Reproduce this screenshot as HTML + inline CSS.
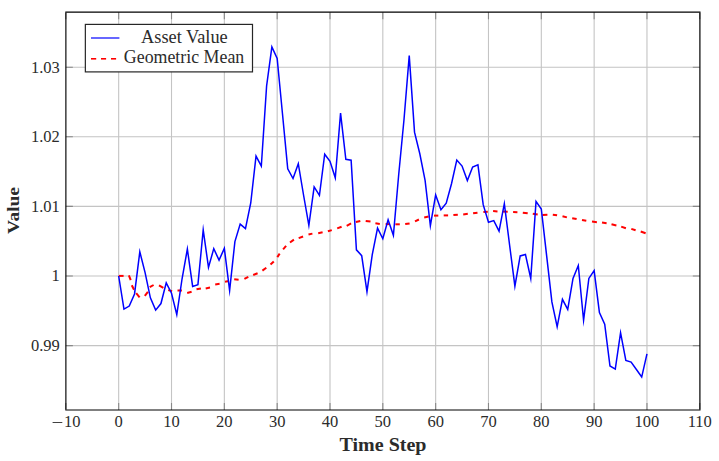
<!DOCTYPE html><html><head><meta charset="utf-8"><style>html,body{margin:0;padding:0;background:#fff;width:719px;height:461px;overflow:hidden}svg{display:block}text{font-family:"Liberation Serif",serif;fill:#2b2b2b}</style></head><body>
<svg width="719" height="461" viewBox="0 0 719 461">
<rect width="719" height="461" fill="#fff"/>
<path d="M118.68 12.15V410.0M171.51 12.15V410.0M224.34 12.15V410.0M277.17 12.15V410.0M330.00 12.15V410.0M382.82 12.15V410.0M435.65 12.15V410.0M488.48 12.15V410.0M541.31 12.15V410.0M594.14 12.15V410.0M646.97 12.15V410.0M65.85 345.60H699.8M65.85 276.00H699.8M65.85 206.40H699.8M65.85 136.80H699.8M65.85 67.20H699.8" stroke="#c4c4c4" stroke-width="1.1" fill="none"/>
<path d="M65.85 410.0v-7.0M65.85 12.15v7.0M118.68 410.0v-7.0M118.68 12.15v7.0M171.51 410.0v-7.0M171.51 12.15v7.0M224.34 410.0v-7.0M224.34 12.15v7.0M277.17 410.0v-7.0M277.17 12.15v7.0M330.00 410.0v-7.0M330.00 12.15v7.0M382.82 410.0v-7.0M382.82 12.15v7.0M435.65 410.0v-7.0M435.65 12.15v7.0M488.48 410.0v-7.0M488.48 12.15v7.0M541.31 410.0v-7.0M541.31 12.15v7.0M594.14 410.0v-7.0M594.14 12.15v7.0M646.97 410.0v-7.0M646.97 12.15v7.0M699.80 410.0v-7.0M699.80 12.15v7.0M65.85 345.60h7.0M699.8 345.60h-7.0M65.85 276.00h7.0M699.8 276.00h-7.0M65.85 206.40h7.0M699.8 206.40h-7.0M65.85 136.80h7.0M699.8 136.80h-7.0M65.85 67.20h7.0M699.8 67.20h-7.0" stroke="#888888" stroke-width="1.1" fill="none"/>
<g stroke="#ff0000" stroke-width="2" fill="none"><line x1="118.8" y1="275.9" x2="123.6" y2="275.9"/><line x1="128.9" y1="275.3" x2="130.7" y2="280.2"/><line x1="131.8" y1="285.2" x2="134" y2="289.8"/><line x1="136.2" y1="293.2" x2="139.6" y2="297.3"/><line x1="144.8" y1="295.8" x2="147.9" y2="291.9"/><line x1="149.7" y1="287.2" x2="153.6" y2="285"/><line x1="159" y1="285.4" x2="163.4" y2="287.9"/><line x1="168.2" y1="290.1" x2="172.1" y2="291.1"/><line x1="177.5" y1="290.5" x2="181.9" y2="290.5"/><line x1="187.2" y1="293" x2="191.6" y2="291.8"/><line x1="196.5" y1="289.3" x2="200.9" y2="288.6"/><line x1="205.7" y1="288.4" x2="210" y2="287.6"/><line x1="215.2" y1="284.4" x2="219.6" y2="283.7"/><line x1="225" y1="281.8" x2="228.9" y2="281.1"/><line x1="234.2" y1="279.3" x2="238.6" y2="279.8"/><line x1="244.4" y1="278.9" x2="248.3" y2="276.9"/><line x1="253.2" y1="275" x2="257.6" y2="273.3"/><line x1="262.4" y1="270.6" x2="266.3" y2="267.7"/><line x1="270.5" y1="264.5" x2="273.8" y2="261.4"/><line x1="277.3" y1="257.1" x2="279.7" y2="253.7"/><line x1="283.1" y1="249.3" x2="286.1" y2="245.9"/><line x1="290" y1="242.5" x2="293.9" y2="239.6"/><line x1="298.7" y1="238.1" x2="303.1" y2="236.5"/><line x1="308.5" y1="234.5" x2="312.4" y2="233.6"/><line x1="318.2" y1="233.3" x2="322.6" y2="232.3"/><line x1="327.9" y1="231.3" x2="331.8" y2="230.1"/><line x1="337.2" y1="228.4" x2="341.6" y2="226.8"/><line x1="346.7" y1="225.8" x2="351.1" y2="223.4"/><line x1="355.9" y1="221.9" x2="360.3" y2="220.9"/><line x1="365.7" y1="220.9" x2="370.5" y2="221.6"/><line x1="375.4" y1="223.2" x2="379.8" y2="223.9"/><line x1="385.6" y1="224.1" x2="389.5" y2="224.1"/><line x1="395.4" y1="224.3" x2="399.8" y2="224.3"/><line x1="405.2" y1="224.1" x2="409.6" y2="223.4"/><line x1="415" y1="221.4" x2="418.9" y2="219.5"/><line x1="424.2" y1="217.5" x2="428.6" y2="216.6"/><line x1="434" y1="215.6" x2="438.3" y2="215.6"/><line x1="443.7" y1="215.4" x2="448.1" y2="215.4"/><line x1="453.4" y1="215.1" x2="457.8" y2="214.8"/><line x1="463.2" y1="214.4" x2="467.8" y2="213.7"/><line x1="473.1" y1="213.3" x2="477.5" y2="212.7"/><line x1="483.4" y1="212" x2="487.8" y2="211.7"/><line x1="493.1" y1="211.1" x2="497.5" y2="211.4"/><line x1="502.8" y1="211.6" x2="507.7" y2="211.7"/><line x1="513.1" y1="212" x2="517.4" y2="212.2"/><line x1="522.8" y1="212.7" x2="527.7" y2="213.3"/><line x1="532.8" y1="213.7" x2="537.7" y2="214.5"/><line x1="542.5" y1="215" x2="547.4" y2="214.7"/><line x1="552.8" y1="214.7" x2="557.1" y2="215.3"/><line x1="562.5" y1="216.2" x2="566.9" y2="217.4"/><line x1="572.2" y1="218.2" x2="576.6" y2="219.1"/><line x1="582" y1="220.1" x2="586.3" y2="220.8"/><line x1="592" y1="221.6" x2="596.9" y2="222.3"/><line x1="602" y1="222.5" x2="606.6" y2="223.3"/><line x1="611.5" y1="224.3" x2="616.4" y2="225.4"/><line x1="621.2" y1="226.6" x2="625.9" y2="228.2"/><line x1="631.3" y1="228.9" x2="635.6" y2="230.3"/><line x1="640.7" y1="231.5" x2="645.6" y2="233.2"/></g>
<polyline points="118.68,276.00 123.96,309.07 129.25,306.03 134.53,293.95 139.81,251.78 145.09,272.55 150.38,297.85 155.66,310.10 160.94,303.54 166.23,282.89 171.51,293.25 176.79,314.57 182.07,278.75 187.36,249.06 192.64,286.42 197.92,284.69 203.21,229.85 208.49,267.38 213.77,248.67 219.05,260.16 224.34,248.36 229.62,290.62 234.90,241.65 240.19,224.14 245.47,228.65 250.75,203.00 256.03,156.10 261.32,166.17 266.60,85.95 271.88,46.86 277.17,58.45 282.45,113.45 287.73,168.75 293.02,178.49 298.30,163.69 303.58,195.25 308.86,225.47 314.15,186.88 319.43,195.40 324.71,154.23 330.00,161.25 335.28,177.83 340.56,113.05 345.84,159.27 351.13,160.14 356.41,249.84 361.69,255.66 366.98,291.72 372.26,254.55 377.54,228.16 382.82,238.78 388.11,219.81 393.39,235.29 398.67,174.95 403.96,119.95 409.24,55.65 414.52,132.15 419.81,153.75 425.09,180.45 430.37,225.72 435.65,194.97 440.94,209.66 446.22,203.24 451.50,183.75 456.79,160.11 462.07,166.05 467.35,180.56 472.63,167.08 477.92,164.92 483.20,204.65 488.48,222.27 493.77,220.59 499.05,231.13 504.33,203.66 509.62,245.25 514.90,286.19 520.18,255.91 525.46,254.53 530.75,278.52 536.03,201.39 541.31,208.96 546.60,255.45 551.88,301.95 557.16,326.78 562.44,299.33 567.73,309.42 573.01,278.35 578.29,265.47 583.58,320.33 588.86,278.45 594.14,270.62 599.42,312.55 604.71,324.25 609.99,366.02 615.27,369.10 620.56,332.71 625.84,360.49 631.12,362.07 636.40,369.45 641.69,377.05 646.97,353.95" stroke="#0000ff" stroke-width="1.5" fill="none" stroke-linejoin="miter" stroke-miterlimit="10"/>
<g stroke="#000" fill="none"><path d="M65.3 12.15H700.5" stroke-width="1.1"/><path d="M65.3 410.0H700.5" stroke-width="1.0"/><path d="M65.88 12.7V409.5" stroke-width="1.15"/><path d="M699.9 12.7V409.5" stroke-width="1.2"/></g>
<text x="118.68" y="427" font-size="16.5" text-anchor="middle">0</text>
<text x="171.51" y="427" font-size="16.5" text-anchor="middle">10</text>
<text x="224.34" y="427" font-size="16.5" text-anchor="middle">20</text>
<text x="277.17" y="427" font-size="16.5" text-anchor="middle">30</text>
<text x="330.00" y="427" font-size="16.5" text-anchor="middle">40</text>
<text x="382.82" y="427" font-size="16.5" text-anchor="middle">50</text>
<text x="435.65" y="427" font-size="16.5" text-anchor="middle">60</text>
<text x="488.48" y="427" font-size="16.5" text-anchor="middle">70</text>
<text x="541.31" y="427" font-size="16.5" text-anchor="middle">80</text>
<text x="594.14" y="427" font-size="16.5" text-anchor="middle">90</text>
<text x="646.97" y="427" font-size="16.5" text-anchor="middle">100</text>
<text x="699.80" y="427" font-size="16.5" text-anchor="middle">110</text>
<text x="72.3" y="427" font-size="16.5" text-anchor="middle">10</text>
<line x1="52.6" y1="422.5" x2="62.3" y2="422.5" stroke="#2b2b2b" stroke-width="0.9"/>
<text x="59.8" y="351.00" font-size="16.5" text-anchor="end">0.99</text>
<text x="59.8" y="281.40" font-size="16.5" text-anchor="end">1</text>
<text x="59.8" y="211.80" font-size="16.5" text-anchor="end">1.01</text>
<text x="59.8" y="142.20" font-size="16.5" text-anchor="end">1.02</text>
<text x="59.8" y="72.60" font-size="16.5" text-anchor="end">1.03</text>
<text x="383" y="450.6" font-size="17.8" font-weight="bold" text-anchor="middle" textLength="86.9" lengthAdjust="spacingAndGlyphs">Time Step</text>
<text transform="translate(18.8 210.45) rotate(-90)" x="0" y="0" font-size="17.2" font-weight="bold" text-anchor="middle" textLength="46.9" lengthAdjust="spacingAndGlyphs">Value</text>
<rect x="85.35" y="24.4" width="167.15" height="47.5" fill="#fff" stroke="#262626" stroke-width="1.2"/>
<line x1="91" y1="38" x2="119.4" y2="38" stroke="#0000ff" stroke-width="1.2"/>
<g stroke="#ff0000" stroke-width="1.6"><line x1="91" y1="58.8" x2="96.2" y2="58.8"/><line x1="101" y1="58.8" x2="106.1" y2="58.8"/><line x1="111" y1="58.8" x2="116.1" y2="58.8"/></g>
<text x="184.4" y="42.6" font-size="17.8" text-anchor="middle" textLength="86.7" lengthAdjust="spacingAndGlyphs">Asset Value</text>
<text x="184.05" y="62.6" font-size="17.8" text-anchor="middle" textLength="120.4" lengthAdjust="spacingAndGlyphs">Geometric Mean</text>
</svg></body></html>
